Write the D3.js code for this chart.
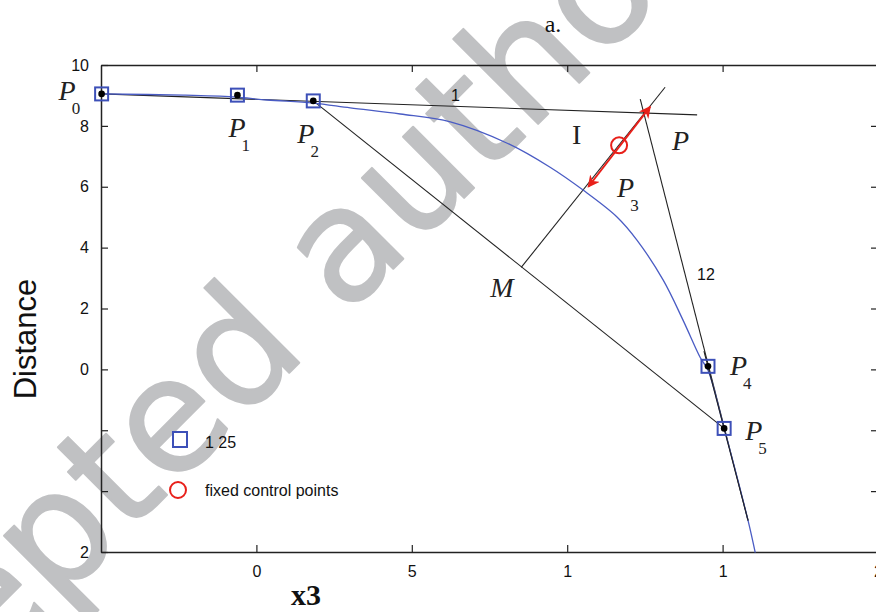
<!DOCTYPE html>
<html>
<head>
<meta charset="utf-8">
<script src="https://cdn.jsdelivr.net/npm/d3@7"></script>
<style>
  body { margin: 0; background: #fff; }
  svg { display: block; }
  .tick text { font-family: "Liberation Sans", Arial, sans-serif; font-size: 16px; fill: #111; }
  .lbl { font-family: "Liberation Serif", "Times New Roman", serif; font-style: italic; font-size: 28px; fill: #222; }
  .sub { font-style: normal; font-size: 17px; }
  .note { font-family: "Liberation Sans", Arial, sans-serif; font-size: 16px; fill: #111; }
</style>
</head>
<body>
<div id="chart-area"></div>
<script>
// axis ticks as printed in the figure (labels are truncated in the original)
var xTicks = [0, 5, 10, 15, 20];
var xTickLabels = ["0", "5", "1", "1", "2"];
var yTicks = [10, 8, 6, 4, 2, 0, -2, -4, -6];
var yTickLabels = ["10", "8", "6", "4", "2", "0", "", "", "2"];

// control polygon points P0, P1, P2, P4, P5
var ctrlNames = ["0", "1", "2", "4", "5"];
var ctrlX = [-4.98, -0.61, 1.83, 14.53, 15.05];
var ctrlY = [9.05, 9.01, 8.82, 0.10, -1.94];

// fixed control point P3
var fixedX = [11.67];
var fixedY = [7.36];

// fitted curve (blue)
var curveX = [-4.98, -2.35, -0.74, 0.35, 1.83, 3.02, 4.63, 6.24, 8.07, 9.45, 10.51, 11.61, 12.25, 13.09, 13.73, 14.28, 14.53, 15.05, 15.82, 16.05];
var curveY = [9.05, 9.01, 8.95, 8.85, 8.75, 8.59, 8.39, 8.13, 7.43, 6.64, 5.89, 5.0, 4.24, 2.93, 1.61, 0.39, -0.03, -1.94, -4.97, -6.02];

// construction lines
var tangent1 = [[-4.98, 9.05], [14.18, 8.36]];
var tangent2 = [[12.35, 8.88], [15.82, -4.97]];
var chord = [[1.83, 8.82], [15.05, -1.94]];
var normal = [[8.52, 3.35], [13.15, 9.27]];
var arrowSeg = [[10.68, 6.0], [12.67, 8.63]];
var midM = [8.52, 3.35];

var W = 876, H = 612;
var svg = d3.select("#chart-area").append("svg")
    .attr("width", W)
    .attr("height", H);

// watermark behind everything
svg.append("text")
    .attr("x", 0).attr("y", 0)
    .attr("transform", "translate(-211,873) rotate(-45)")
    .attr("font-family", "DejaVu Sans, sans-serif")
    .attr("font-size", 158)
    .attr("fill", "#c0c1c3")
    .attr("stroke", "#c0c1c3")
    .attr("stroke-width", 2)
    .attr("stroke-linejoin", "round")
    .text("Accepted author manuscript");

var x = d3.scaleLinear().domain([-5, 20]).range([101, 878]);
var y = d3.scaleLinear().domain([-6, 10]).range([552, 65]);

var defs = svg.append("defs");
defs.append("marker")
    .attr("id", "ah")
    .attr("viewBox", "0 0 10 10")
    .attr("refX", 9).attr("refY", 5)
    .attr("markerWidth", 6).attr("markerHeight", 6)
    .attr("orient", "auto-start-reverse")
  .append("path")
    .attr("d", "M0,0 L10,5 L0,10 L3,5 z")
    .attr("fill", "#e8201a");

// axes (box)
function fmt(labels, ticks) {
    return function(d) { return labels[ticks.indexOf(d)]; };
}
var axisStyle = function(g) {
    g.select(".domain").attr("stroke", "#222").attr("stroke-width", 1.5);
    g.selectAll(".tick line").attr("stroke", "#222").attr("stroke-width", 1.2);
};
svg.append("g")
    .attr("transform", "translate(0," + y(-6) + ")")
    .call(d3.axisBottom(x).tickValues(xTicks).tickFormat(fmt(xTickLabels, xTicks)).tickSizeInner(-7).tickSizeOuter(0).tickPadding(14))
    .call(axisStyle);
svg.append("g")
    .attr("transform", "translate(0," + y(10) + ")")
    .call(d3.axisTop(x).tickValues([0, 5, 10, 15]).tickFormat("").tickSizeInner(-7).tickSizeOuter(0))
    .call(axisStyle);
svg.append("g")
    .attr("transform", "translate(" + x(-5) + ",0)")
    .call(d3.axisLeft(y).tickValues(yTicks).tickFormat(fmt(yTickLabels, yTicks)).tickSizeInner(-7).tickSizeOuter(0).tickPadding(12))
    .call(axisStyle);
svg.append("g")
    .attr("transform", "translate(" + x(20) + ",0)")
    .call(d3.axisRight(y).tickValues([8, 6, 4, 2, 0, -2, -4]).tickFormat("").tickSizeInner(-7).tickSizeOuter(0))
    .call(axisStyle);

// construction lines
var line = d3.line().x(function(d){ return x(d[0]); }).y(function(d){ return y(d[1]); });
[tangent1, tangent2, chord, normal].forEach(function(seg){
    svg.append("path")
        .attr("d", line(seg))
        .attr("fill", "none")
        .attr("stroke", "#222")
        .attr("stroke-width", 1.1);
});

// fitted curve
var curvePts = curveX.map(function(v, i){ return [v, curveY[i]]; });
svg.append("path")
    .attr("d", d3.line().curve(d3.curveCatmullRom).x(function(d){ return x(d[0]); }).y(function(d){ return y(d[1]); })(curvePts))
    .attr("fill", "none")
    .attr("stroke", "#4a5cc4")
    .attr("stroke-width", 1.3);

// redraw the tangent at P4-P5 on top, it sits over the curve there
svg.append("path")
    .attr("d", line([[14.4, 0.6], tangent2[1]]))
    .attr("stroke", "#222").attr("stroke-width", 1.1).attr("fill", "none");

// red double arrow
svg.append("path")
    .attr("d", line(arrowSeg))
    .attr("stroke", "#e8201a")
    .attr("stroke-width", 2)
    .attr("fill", "none")
    .attr("marker-start", "url(#ah)")
    .attr("marker-end", "url(#ah)");

// fixed control point
svg.selectAll("circle.fixed")
    .data(fixedX)
    .enter().append("circle")
        .attr("class", "fixed")
        .attr("cx", function(d){ return x(d); })
        .attr("cy", function(d, i){ return y(fixedY[i]); })
        .attr("r", 8)
        .attr("fill", "none")
        .attr("stroke", "#e8201a")
        .attr("stroke-width", 2);

// control points: blue squares with black dots
var ctrl = svg.selectAll("g.ctrl")
    .data(ctrlX)
    .enter().append("g")
        .attr("class", "ctrl")
        .attr("transform", function(d, i){ return "translate(" + x(d) + "," + y(ctrlY[i]) + ")"; });
ctrl.append("rect")
    .attr("x", -6.5).attr("y", -6.5)
    .attr("width", 13).attr("height", 13)
    .attr("fill", "none")
    .attr("stroke", "#3d50b8")
    .attr("stroke-width", 2);
ctrl.append("circle")
    .attr("r", 3.3)
    .attr("fill", "#000");

// P labels
var pOffsets = [[-43, 6], [-9, 42], [-16, 42], [22, 9], [21, 12]];
function plabel(px, py, main, sub, subDx) {
    var t = svg.append("text").attr("class", "lbl").attr("x", px).attr("y", py).text(main);
    if (sub !== null) {
        t.append("tspan").attr("class", "sub").attr("dx", subDx).attr("dy", 14).text(sub);
    }
}
ctrlNames.forEach(function(n, i){
    var o = pOffsets[i];
    plabel(x(ctrlX[i]) + o[0], y(ctrlY[i]) + o[1], "P", n, -4);
});
plabel(x(fixedX[0]) - 2, y(fixedY[0]) + 52, "P", "3", -4);
plabel(672, 150, "P", null);
plabel(x(midM[0]) - 31, y(midM[1]) + 30, "M", null);
svg.append("text")
    .attr("x", 572).attr("y", 144)
    .attr("font-family", "Liberation Serif, Times New Roman, serif")
    .attr("font-size", 28)
    .attr("fill", "#222")
    .text("I");

svg.append("text").attr("class", "note").attr("x", 451).attr("y", 101).text("1");
svg.append("text").attr("class", "note").attr("x", 697).attr("y", 280).text("12");

// legend
svg.append("rect")
    .attr("x", 173).attr("y", 432)
    .attr("width", 14).attr("height", 15)
    .attr("fill", "none").attr("stroke", "#3d50b8").attr("stroke-width", 2);
svg.append("text").attr("class", "note").attr("x", 205).attr("y", 448).attr("font-size", 17).text("1 25");
svg.append("circle")
    .attr("cx", 178).attr("cy", 490).attr("r", 8)
    .attr("fill", "none").attr("stroke", "#e8201a").attr("stroke-width", 2);
svg.append("text").attr("class", "note").attr("x", 205).attr("y", 496).attr("font-size", 17).text("fixed control points");

// title and axis labels
svg.append("text")
    .attr("x", 553).attr("y", 32)
    .attr("text-anchor", "middle")
    .attr("font-family", "Liberation Serif, Times New Roman, serif")
    .attr("font-size", 24)
    .attr("fill", "#111")
    .text("a.");
svg.append("text")
    .attr("x", 306).attr("y", 605)
    .attr("text-anchor", "middle")
    .attr("font-family", "Liberation Serif, Times New Roman, serif")
    .attr("font-weight", "bold")
    .attr("font-size", 30)
    .attr("fill", "#111")
    .text("x3");
svg.append("text")
    .attr("transform", "translate(36,339) rotate(-90)")
    .attr("text-anchor", "middle")
    .attr("font-family", "Liberation Sans, Arial, sans-serif")
    .attr("font-size", 31)
    .attr("fill", "#111")
    .text("Distance");
</script>
</body>
</html>
